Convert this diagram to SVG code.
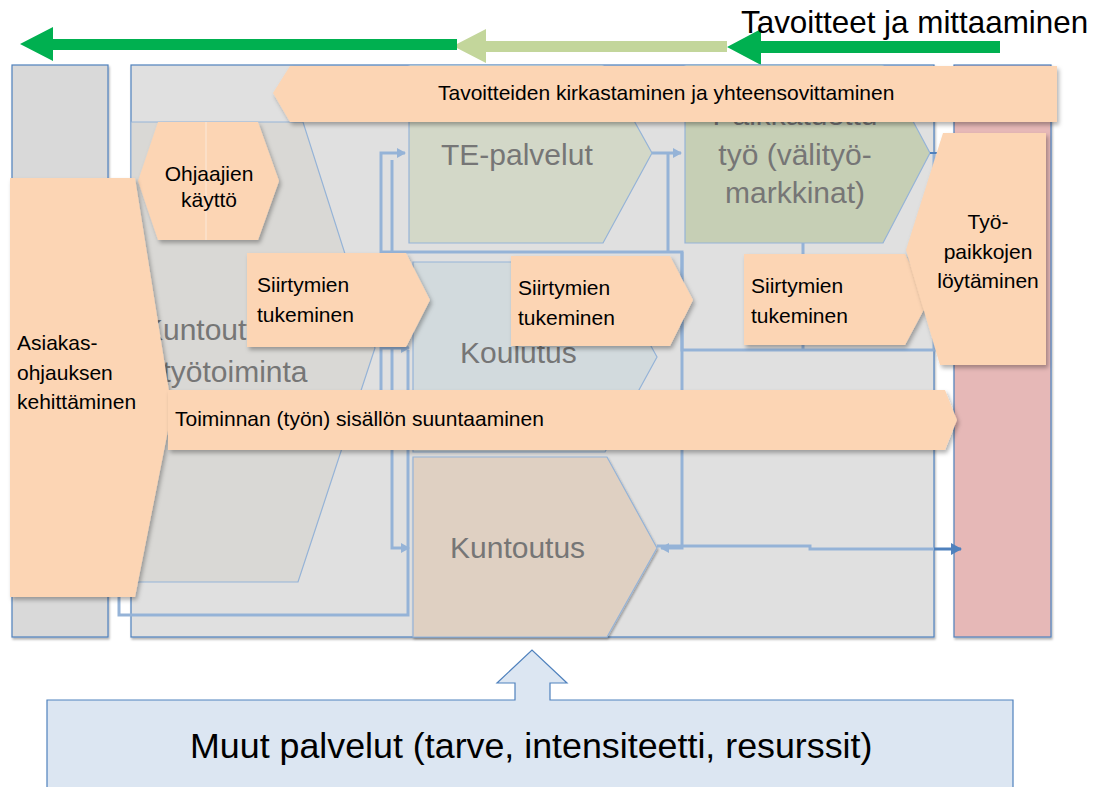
<svg xmlns="http://www.w3.org/2000/svg" width="1112" height="787" viewBox="0 0 1112 787">
<defs>
<filter id="sh" x="-10%" y="-10%" width="130%" height="130%"><feDropShadow dx="2" dy="3" stdDeviation="2" flood-color="#000" flood-opacity="0.3"/></filter>
<filter id="sh2" x="-10%" y="-10%" width="130%" height="130%"><feDropShadow dx="1" dy="2" stdDeviation="1.2" flood-color="#000" flood-opacity="0.3"/></filter>
<marker id="ah" markerWidth="10" markerHeight="10" refX="8" refY="5" orient="auto" markerUnits="userSpaceOnUse"><path d="M0,0 L9,5 L0,10 Z" fill="#95b3d7"/></marker>
<marker id="ahd" markerWidth="12" markerHeight="12" refX="10" refY="6" orient="auto" markerUnits="userSpaceOnUse"><path d="M0,0 L11,6 L0,12 Z" fill="#4f81bd"/></marker>
</defs>
<style>
.col{stroke:#4f81bd;stroke-width:1.2}
.proc{stroke:#95b3d7;stroke-width:1.2}
.orange{fill:#fcd5b4;filter:url(#sh)}
.lbl{font-family:"Liberation Sans",Arial,sans-serif;font-size:21px;fill:#000}
.big{font-family:"Liberation Sans",Arial,sans-serif;font-size:30px;fill:#767676}
.con{fill:none;stroke:#95b3d7;stroke-width:3}
</style>
<rect width="1112" height="787" fill="#fff"/>

<g id="goal-arrows">
<polygon points="1000,41 761,41 761,29 727,47 761,65 761,53 1000,53" fill="#00b050"/>
<polygon points="727,41 486,41 486,29 453,46 486,63 486,52 727,52" fill="#c3d69b"/>
<polygon points="457,39 53,39 53,27 20,44 53,61 53,50 457,50" fill="#00b050"/>
</g>
<g id="title"><text x="741" y="33" font-family="Liberation Sans, Arial, sans-serif" font-size="31.4" fill="#000">Tavoitteet ja mittaaminen</text></g>

<g id="left-column"><rect x="12" y="65" width="96" height="572" fill="#d9d9d9" class="col" filter="url(#sh2)"/></g>
<g id="main-area"><rect x="131" y="65" width="803" height="572" fill="#e0e0e0" class="col" filter="url(#sh2)"/></g>
<g id="right-column"><rect x="954" y="65" width="97" height="572" fill="#e6b8b7" class="col" filter="url(#sh2)"/></g>

<g id="kuntouttava">
<polygon points="131,122 303,122 375,348 298,582 131,582" fill="#d9d8d5" class="proc"/>
<text class="big" text-anchor="middle" x="223" y="340">Kuntouttava</text>
<text class="big" text-anchor="middle" x="235" y="382">työtoiminta</text>
</g>

<g id="te-palvelut">
<polygon points="409,65 603,65 652,153 603,243 409,243" fill="#d3d8c8" class="proc"/>
<text class="big" x="441" y="165">TE-palvelut</text>
</g>

<g id="palkkatuettu">
<polygon points="685,65 883,65 930,153 883,243 685,243" fill="#c6cfb5" class="proc"/>
<text class="big" text-anchor="middle" x="795" y="125">Palkkatuettu</text>
<text class="big" text-anchor="middle" x="795" y="165">työ (välityö-</text>
<text class="big" text-anchor="middle" x="795" y="203">markkinat)</text>
</g>

<g id="koulutus">
<polygon points="413,262 605,262 657,357 605,452 413,452" fill="#d2dadd" class="proc"/>
<text class="big" x="460" y="363">Koulutus</text>
</g>

<g id="kuntoutus">
<polygon points="413,457 607,457 657,548 607,637 413,637" fill="#dfd0c2" class="proc" filter="url(#sh2)"/>
<text class="big" x="450" y="558" font-size="32">Kuntoutus</text>
</g>

<g id="connectors">
<path class="con" d="M381,450 V153 H405" marker-end="url(#ah)"/>
<path class="con" d="M392,160 V548 H409" marker-end="url(#ah)"/>
<path class="con" d="M381,348 H409" marker-end="url(#ah)"/>
<path class="con" d="M119,590 V615 H408 V350"/>
<path class="con" d="M381,252 H682 V548 H661" marker-end="url(#ah)"/>
<path class="con" d="M652,153 H681" marker-end="url(#ah)"/>
<path class="con" d="M668,153 V252"/>
<path class="con" d="M682,252 V350 H950"/>
<path class="con" d="M803,243 V350"/>
<path class="con" d="M934,153 V350"/>
<path class="con" d="M657,546 H810 V549 H934"/>
<path fill="none" stroke="#4f81bd" stroke-width="3" d="M934,549 H961" marker-end="url(#ahd)"/>
<path fill="none" stroke="#4f81bd" stroke-width="2" d="M930,153 H940"/>
</g>

<g id="tavoitteiden">
<polygon points="290,66 1057,66 1057,122 290,122 273,93" class="orange"/>
<text class="lbl" x="438" y="100">Tavoitteiden kirkastaminen ja yhteensovittaminen</text>
</g>

<g id="ohjaajien">
<polygon points="158,122 258,122 279,181 258,240 158,240 138,181" class="orange"/>
<line x1="206" y1="122" x2="206" y2="240" stroke="#fbe6d4" stroke-width="1.2"/>
<text class="lbl" text-anchor="middle" x="209" y="181">Ohjaajien</text>
<text class="lbl" text-anchor="middle" x="209" y="207">käyttö</text>
</g>

<g id="asiakas">
<polygon points="10,178 135,178 172,410 135,597 10,597" class="orange"/>
<text class="lbl" x="17" y="350">Asiakas-</text>
<text class="lbl" x="17" y="380">ohjauksen</text>
<text class="lbl" x="17" y="409">kehittäminen</text>
</g>

<g id="siirtymien-1">
<polygon points="247,253 406,253 430,300 406,347 247,347" class="orange"/>
<text class="lbl" x="257" y="292">Siirtymien</text>
<text class="lbl" x="257" y="322">tukeminen</text>
</g>
<g id="siirtymien-2">
<polygon points="511,256 670,256 693,300 670,346 511,346" class="orange"/>
<text class="lbl" x="518" y="295">Siirtymien</text>
<text class="lbl" x="518" y="325">tukeminen</text>
</g>
<g id="siirtymien-3">
<polygon points="744,254 905,254 929,300 905,345 744,345" class="orange"/>
<text class="lbl" x="751" y="293">Siirtymien</text>
<text class="lbl" x="751" y="323">tukeminen</text>
</g>

<g id="tyopaikkojen">
<polygon points="943,133 1046,133 1046,365 940,365 906,250" class="orange"/>
<text class="lbl" text-anchor="middle" x="988" y="229">Työ-</text>
<text class="lbl" text-anchor="middle" x="988" y="259">paikkojen</text>
<text class="lbl" text-anchor="middle" x="988" y="288">löytäminen</text>
</g>

<g id="toiminnan">
<polygon points="168,390 945,390 957,420 945,450 168,450" class="orange"/>
<text class="lbl" x="175" y="426">Toiminnan (työn) sisällön suuntaaminen</text>
</g>

<g id="muut-palvelut">
<path d="M47,700 H515 V683 H497 L532,650 L567,683 H550 V700 H1013 V795 H47 Z" fill="#dce6f2" stroke="#4f81bd" stroke-width="1.2"/>
<text x="190" y="758" font-family="Liberation Sans, Arial, sans-serif" font-size="35.8" fill="#000">Muut palvelut (tarve, intensiteetti, resurssit)</text>
</g>
</svg>
